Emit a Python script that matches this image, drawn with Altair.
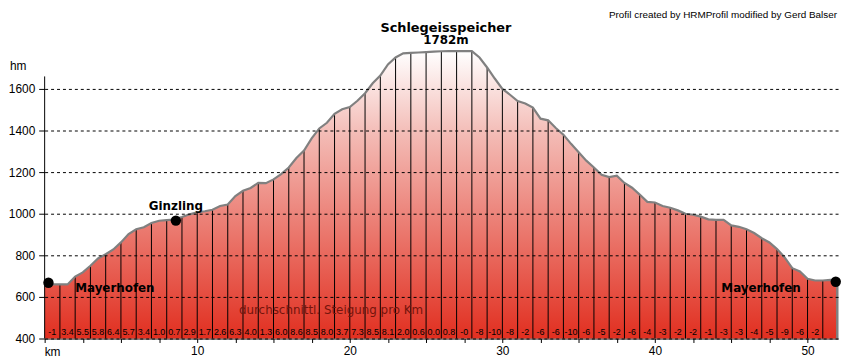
import altair as alt
import pandas as pd

# Profile (km, elevation m)
km = [0, 0.5, 1, 1.5, 2, 2.5, 3, 3.5, 4, 4.5, 5, 5.5, 6, 6.5, 7, 7.5, 8, 8.5, 9, 9.5,
      10, 10.5, 11, 11.5, 12, 12.5, 13, 13.5, 14, 14.5, 15, 15.5, 16, 16.5, 17, 17.5, 18, 18.5, 19, 19.5,
      20, 20.5, 21, 21.5, 22, 22.5, 23, 23.5, 24, 24.5, 25, 25.5, 26, 26.5, 27, 27.5, 28, 28.5, 29, 29.5,
      30, 30.5, 31, 31.5, 32, 32.5, 33, 33.5, 34, 34.5, 35, 35.5, 36, 36.5, 37, 37.5, 38, 38.5, 39, 39.5,
      40, 40.5, 41, 41.5, 42, 42.5, 43, 43.5, 44, 44.5, 45, 45.5, 46, 46.5, 47, 47.5, 48, 48.5, 49, 49.5,
      50, 50.5, 51, 51.5, 51.95]
elev = [660, 660, 660, 660, 698, 718, 750, 785, 805, 828, 862, 902, 925, 935, 955, 966, 969, 972, 984, 997,
        1007, 1012, 1019, 1037, 1044, 1085, 1110, 1124, 1148, 1147, 1165, 1190, 1222, 1268, 1304, 1362, 1410, 1437, 1480, 1502,
        1513, 1543, 1579, 1627, 1664, 1718, 1751, 1771, 1773, 1775, 1777, 1779, 1781, 1782, 1782, 1782, 1782, 1751, 1703, 1650,
        1600, 1572, 1542, 1530, 1510, 1457, 1449, 1412, 1380, 1336, 1296, 1255, 1222, 1187, 1176, 1183, 1148, 1125, 1092, 1057,
        1054, 1037, 1029, 1016, 1000, 995, 986, 973, 970, 970, 944, 937, 925, 907, 882, 862, 830, 790, 738, 722,
        687, 679, 679, 682, 680]

# Average gradient per km (%)
slope_labels = ["-1", "3.4", "5.5", "5.8", "6.4", "5.7", "3.4", "1.0", "0.7", "2.9", "1.7", "2.6", "6.3",
                "4.0", "1.3", "6.0", "8.6", "8.5", "8.0", "3.7", "7.3", "8.5", "8.1", "2.0", "0.6", "0.0",
                "0.8", "-0", "-8", "-10", "-8", "-2", "-6", "-6", "-10", "-6", "-5", "-2", "-6", "-4", "-3",
                "-2", "-2", "-1", "-3", "-3", "-4", "-5", "-9", "-6", "-2"]

# Waypoints
wp_names = ["Mayerhofen", "Ginzling", "Mayerhofen"]
wp_km = [0.25, 8.6, 51.85]
wp_elev = [668, 967, 673]

y_ticks = [400, 600, 800, 1000, 1200, 1400, 1600]
x_ticks = [0, 2.5, 5, 7.5, 10, 12.5, 15, 17.5, 20, 22.5, 25, 27.5, 30, 32.5, 35, 37.5, 40, 42.5, 45, 47.5, 50]

profile = pd.DataFrame({"km": km, "elev": elev})
slopes = pd.DataFrame({"mid": [i + 0.5 for i in range(len(slope_labels))], "label": slope_labels})
wps = pd.DataFrame({"name": wp_names, "km": wp_km, "elev": wp_elev})
end_df = pd.DataFrame({"km": [km[-1]], "elev": [elev[-1]]})

xs = alt.Scale(domain=[0, 52], nice=False, zero=False)
ys = alt.Scale(domain=[400, 1800], nice=False, zero=False)

X = alt.X("km:Q", scale=xs,
          axis=alt.Axis(values=x_ticks, title=None, grid=False, tickSize=4, tickColor="black",
                        domainColor="black", labelColor="black", labelFont="Liberation Sans",
                        labelFontSize=12, labelPadding=3, labelFlush=False,
                        labelExpr="datum.value % 10 == 0 && datum.value > 0 ? datum.label : ''"))
Y = alt.Y("elev:Q", scale=ys,
          axis=alt.Axis(values=y_ticks, title=None, domain=False, grid=True, gridDash=[3, 3],
                        gridColor="black", gridOpacity=1, tickSize=6, tickColor="black", format="d",
                        labelColor="black", labelFont="Liberation Sans", labelFontSize=12,
                        labelPadding=4, zindex=1))

grad = alt.Gradient(gradient="linear",
                    stops=[alt.GradientStop(color="#ffffff", offset=0),
                           alt.GradientStop(color="#f3b9b3", offset=0.3),
                           alt.GradientStop(color="#e12f20", offset=1)],
                    x1=1, x2=1, y1=0, y2=1)

base = alt.Chart(profile)

area = base.mark_area(color=grad).encode(x=X, y=Y, y2=alt.datum(400))

km_rules = base.mark_rule(color="black", strokeWidth=1).encode(
    x="km:Q", y="elev:Q", y2=alt.datum(400)
).transform_filter("datum.km % 1 == 0 && datum.km > 0")

line = base.mark_line(color="#808080", strokeWidth=2.2).encode(x="km:Q", y="elev:Q")

end_rule = alt.Chart(end_df).mark_rule(color="#808080", strokeWidth=2.5).encode(
    x="km:Q", y="elev:Q", y2=alt.datum(400))

yaxis_line = alt.Chart(end_df).mark_rule(color="black", strokeWidth=1).encode(
    x=alt.datum(0), y=alt.datum(400), y2=alt.datum(1660))

dots = alt.Chart(wps).mark_circle(color="black", opacity=1, size=110).encode(x="km:Q", y="elev:Q")

slope_text = alt.Chart(slopes).mark_text(fontSize=9, font="Liberation Sans", color="black",
                                         baseline="middle").encode(
    x="mid:Q", text="label:N", y=alt.value(287))

bold = dict(font="DejaVu Sans", fontWeight="bold", color="black", baseline="middle")
ann_left = pd.DataFrame({"t": ["Mayerhofen", "Mayerhofen"], "km": [2.0, 44.35], "elev": [643, 643]})
t_may = alt.Chart(ann_left).mark_text(align="left", fontSize=12, **bold).encode(
    x="km:Q", y="elev:Q", text="t:N")
ann_c = pd.DataFrame({"t": ["Ginzling", "1782m"], "km": [8.6, 26.3], "elev": [1038, 1833]})
t_c = alt.Chart(ann_c).mark_text(align="center", fontSize=12, **bold).encode(
    x="km:Q", y="elev:Q", text="t:N")
t_peak = alt.Chart(end_df).mark_text(text="Schlegeisspeicher", align="center", fontSize=13, **bold).encode(
    x=alt.datum(26.3), y=alt.datum(1895))

t_avg = alt.Chart(end_df).mark_text(text="durchschnittl. Steigung pro Km", font="DejaVu Sans",
                                    fontSize=12, color="#74140c", align="center",
                                    baseline="middle").encode(x=alt.datum(18.77), y=alt.datum(538))

t_credit = alt.Chart(end_df).mark_text(text="Profil created by HRMProfil modified by Gerd Balser",
                                       font="Liberation Sans", fontSize=10, color="black",
                                       align="right", baseline="middle").encode(
    x=alt.value(800), y=alt.value(-33))
t_hm = alt.Chart(end_df).mark_text(text="hm", font="Liberation Sans", fontSize=12, color="black",
                                   align="left", baseline="middle").encode(
    x=alt.value(-35), y=alt.value(19))
t_km = alt.Chart(end_df).mark_text(text="km", font="Liberation Sans", fontSize=12, color="black",
                                   align="left", baseline="middle").encode(
    x=alt.value(0), y=alt.value(308))

chart = alt.layer(area, km_rules, line, end_rule, yaxis_line, dots, slope_text, t_may, t_c, t_peak,
                  t_avg, t_credit, t_hm, t_km).properties(
    width=801, height=294,
    autosize=alt.AutoSizeParams(type="none"),
    padding={"left": 37, "top": 38, "right": 5, "bottom": 20},
    background="white",
).configure_view(stroke=None)

chart.save("out.html", embed_options={"renderer": "svg", "actions": False})
